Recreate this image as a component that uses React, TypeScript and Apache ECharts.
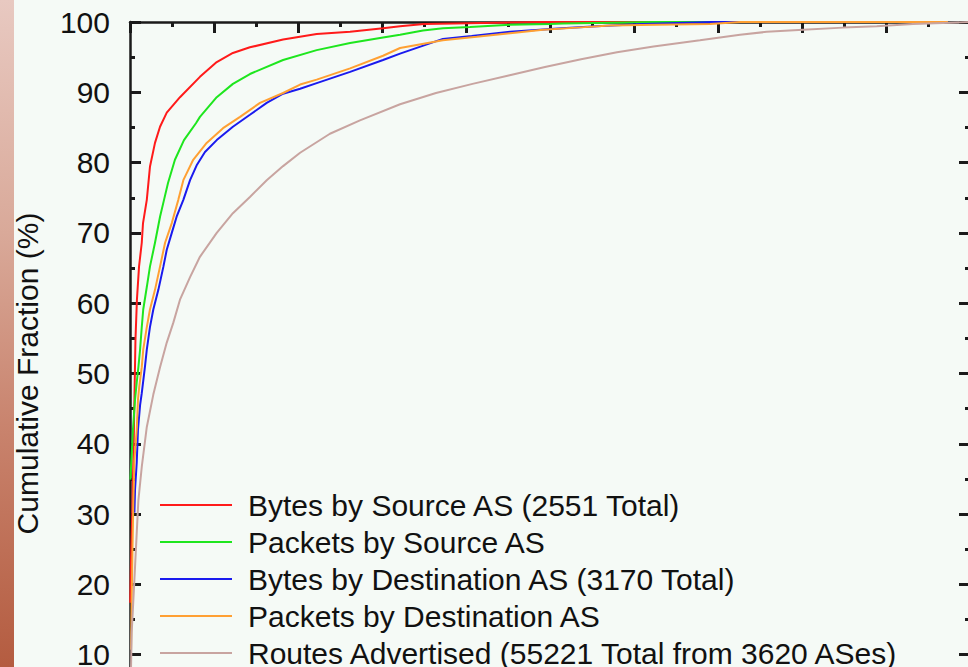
import React, { useEffect, useRef } from "react";
import * as echarts from "echarts";

const xMin = 0;
const xMax = 4000;
const xInterval = 400;
const yTickValues = [0, 10, 20, 30, 40, 50, 60, 70, 80, 90, 100];

const seriesNames = [
  "Bytes by Source AS (2551 Total)",
  "Packets by Source AS",
  "Bytes by Destination AS (3170 Total)",
  "Packets by Destination AS",
  "Routes Advertised (55221 Total from 3620 ASes)",
];
const seriesColors = ["#ff1a1a", "#1ee61e", "#1a1aee", "#ffa033", "#c8a4a0"];

const bytesBySource: number[][] = [
  [1, 17.4], [5, 23.5], [10, 29.2], [17, 39.1], [21, 46.2], [26, 54.8], [33, 60.5], [43, 65.2],
  [56, 68.6], [62, 71.4], [80, 74.7], [95, 79.4], [119, 82.8], [143, 85.1], [175, 87.1],
  [238, 89.3], [333, 92.2], [413, 94.3], [490, 95.6], [571, 96.4], [729, 97.5], [889, 98.3],
  [1048, 98.6], [1205, 99.1], [1286, 99.4], [1400, 99.7], [1543, 99.8], [1976, 100], [2551, 100],
];
const packetsBySource: number[][] = [
  [2, 34.9], [14, 42.0], [24, 46.3], [32, 48.7], [40, 50.9], [48, 53.4], [56, 56.6], [63, 59.1],
  [80, 62.3], [95, 65.2], [119, 68.6], [143, 72.3], [162, 74.7], [181, 77.1], [214, 80.4],
  [257, 83.2], [314, 85.6], [333, 86.5], [413, 89.3], [490, 91.2], [571, 92.6], [729, 94.6],
  [889, 96.0], [1048, 97.0], [1205, 97.8], [1286, 98.2], [1395, 98.8], [1490, 99.1], [1619, 99.3],
  [1810, 99.6], [2000, 99.7], [2062, 99.8], [2495, 100], [2771, 100],
];
const bytesByDest: number[][] = [
  [21, 30.2], [24, 33.5], [32, 37.3], [38, 42.0], [48, 45.5], [56, 47.2], [71, 50.9], [80, 53.4],
  [95, 56.6], [111, 59.1], [135, 61.9], [159, 65.2], [175, 67.6], [199, 70.0], [222, 72.3],
  [254, 74.7], [286, 77.5], [319, 79.7], [357, 81.5], [413, 83.2], [490, 85.1], [571, 86.8],
  [651, 88.5], [729, 89.8], [810, 90.5], [889, 91.3], [1048, 92.9], [1205, 94.6], [1286, 95.5],
  [1490, 97.6], [1627, 98.0], [1810, 98.6], [2056, 99.1], [2222, 99.4], [2443, 99.7], [2771, 100],
  [3170, 100],
];
const packetsByDest: number[][] = [
  [5, 10.7], [8, 17.8], [12, 25.4], [16, 32.0], [21, 37.7], [32, 42.0], [38, 46.3], [44, 48.1],
  [56, 50.9], [63, 53.4], [80, 56.6], [95, 59.1], [119, 61.9], [143, 65.2], [167, 68.6],
  [199, 71.4], [230, 74.7], [254, 77.5], [301, 80.4], [365, 82.8], [443, 84.9], [524, 86.5],
  [619, 88.5], [729, 89.9], [810, 91.1], [889, 91.8], [1048, 93.4], [1205, 95.2], [1286, 96.3],
  [1490, 97.4], [1651, 97.9], [1810, 98.4], [1967, 98.9], [2127, 99.2], [2286, 99.5], [2508, 99.6],
  [2762, 99.7], [2905, 100], [3895, 100],
];
const routesAdvertised: number[][] = [
  [2, 3.6], [8, 13.1], [16, 17.8], [24, 22.5], [32, 27.3], [40, 32.0], [56, 36.7], [80, 42.4],
  [111, 47.0], [143, 50.9], [175, 54.4], [206, 57.2], [238, 60.5], [286, 63.7], [333, 66.6],
  [413, 70.0], [490, 72.8], [571, 75.1], [651, 77.5], [729, 79.5], [810, 81.4], [952, 84.1],
  [1095, 86.0], [1286, 88.3], [1457, 89.9], [1631, 91.2], [1803, 92.4], [1976, 93.6], [2148, 94.7],
  [2319, 95.7], [2493, 96.5], [2714, 97.4], [2905, 98.2], [3032, 98.6], [3205, 98.9], [3395, 99.2],
  [3556, 99.4], [3729, 99.7], [3905, 99.9], [4000, 100],
];
const allSeries = [bytesBySource, packetsBySource, bytesByDest, packetsByDest, routesAdvertised];

const FONT = "'Liberation Sans', Arial, sans-serif";
const TEXT = "#111111";
const AXIS = "#1a1a1a";

export default function App() {
  const ref = useRef<HTMLDivElement>(null);
  useEffect(() => {
    if (!ref.current) return;
    const chart = echarts.init(ref.current, null, { renderer: "svg" });
    const lineCommon = {
      axisLine: { show: true, onZero: false, lineStyle: { color: AXIS, width: 2.5 } },
      splitLine: { show: false },
      minorSplitLine: { show: false },
    };
    const tickCommon = {
      axisTick: { show: true, inside: true, length: 11, lineStyle: { color: AXIS, width: 3 } },
      minorTick: { show: true, splitNumber: 2, length: 5, lineStyle: { color: AXIS, width: 3 } },
    };
    chart.setOption({
      animation: false,
      backgroundColor: "#f5faf6",
      grid: { left: 130, top: 22, width: 840, height: 703, containLabel: false, outerBoundsMode: "none" },
      graphic: [
        {
          type: "rect",
          left: 0,
          top: 0,
          shape: { width: 14, height: 667 },
          style: {
            fill: new echarts.graphic.LinearGradient(0, 0, 0, 1, [
              { offset: 0, color: "#e8c9c1" },
              { offset: 0.35, color: "#d9a999" },
              { offset: 0.65, color: "#c8826c" },
              { offset: 1, color: "#b45c40" },
            ]),
          },
        },
      ],
      xAxis: [
        { type: "value", min: xMin, max: xMax, interval: xInterval, position: "bottom", axisLabel: { show: false }, ...lineCommon, ...tickCommon },
        { type: "value", min: xMin, max: xMax, interval: xInterval, position: "top", axisLabel: { show: false }, ...lineCommon, ...tickCommon },
      ],
      yAxis: [
        {
          type: "value",
          min: yTickValues[0],
          max: yTickValues[yTickValues.length - 1],
          interval: 10,
          position: "left",
          name: "Cumulative Fraction (%)",
          nameLocation: "middle",
          nameGap: 88,
          nameTextStyle: { fontSize: 30, fontFamily: FONT, color: TEXT },
          axisLabel: { show: true, showMinLabel: false, fontSize: 30, lineHeight: 26, fontFamily: FONT, color: TEXT, margin: 20 },
          ...lineCommon,
          ...tickCommon,
        },
        {
          type: "value",
          min: yTickValues[0],
          max: yTickValues[yTickValues.length - 1],
          interval: 10,
          position: "right",
          axisLabel: { show: false },
          ...lineCommon,
          ...tickCommon,
        },
      ],
      legend: {
        orient: "vertical",
        left: 155,
        top: 485,
        icon: "rect",
        itemWidth: 72,
        itemHeight: 2,
        itemGap: 7,
        data: seriesNames,
        textStyle: { fontSize: 30, fontFamily: FONT, color: TEXT, lineHeight: 30, padding: [0, 0, 0, 11] },
      },
      series: allSeries.map((d, i) => ({
        type: "line",
        name: seriesNames[i],
        data: d,
        xAxisIndex: 0,
        yAxisIndex: 0,
        symbol: "none",
        clip: false,
        lineStyle: { color: seriesColors[i], width: 2 },
        itemStyle: { color: seriesColors[i] },
      })),
    });
    return () => chart.dispose();
  }, []);
  return (
    <div
      ref={ref}
      style={{ position: "fixed", left: 0, top: 0, width: 1000, height: 760 }}
    />
  );
}
